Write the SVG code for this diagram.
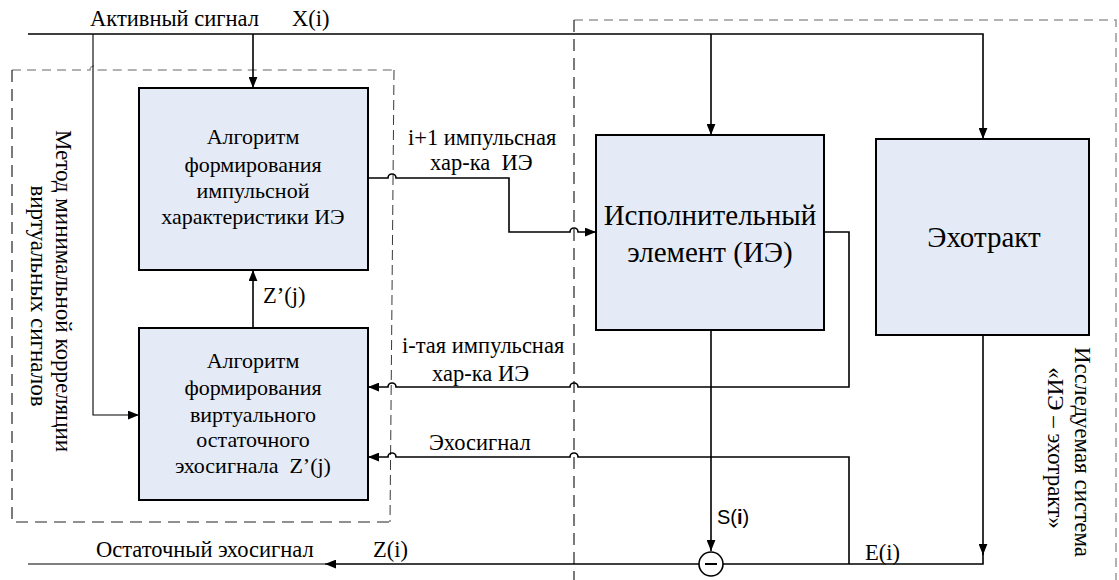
<svg xmlns="http://www.w3.org/2000/svg" width="1119" height="580" viewBox="0 0 1119 580">
<defs>
<style>
.t{font-family:"Liberation Serif","Times New Roman",serif}
.lbl{font-size:22.5px}
.rot{font-size:23px;text-anchor:middle}
.box{fill:#e5ebf6;stroke:#000;stroke-width:2}
.bt{font-size:22px;text-anchor:middle}
.big{font-size:29px;text-anchor:middle}
.ln{fill:none;stroke:#000;stroke-width:1.6}
.thin{fill:none;stroke:#000;stroke-width:1.1}
.dg{fill:none;stroke:#999;stroke-width:1.5;stroke-dasharray:9,6}
.dk{fill:none;stroke:#222;stroke-width:1.2;stroke-dasharray:12,7}
</style>
<marker id="ah" viewBox="0 0 10 8" refX="10" refY="4" markerWidth="11" markerHeight="9" markerUnits="userSpaceOnUse" orient="auto">
<path d="M0,0 L10,4 L0,8 z" fill="#000"/>
</marker>
</defs>
<rect width="1119" height="580" fill="#fff"/>

<g id="frames">
<path class="dg" d="M12,70 H90 A4,4 0 0 1 98,70 H394"/>
<path class="dk" d="M12,70 V522 H390"/>
<path class="dk" d="M394,70 L390,522" style="stroke-width:0.9;stroke-dasharray:10,5"/>
<path class="dg" d="M574,20 H1116 V580"/>
<path class="dk" d="M574,20 V580"/>
</g>

<g id="connectors">
<path class="ln" d="M28,34 H983 V139" marker-end="url(#ah)"/>
<path class="ln" d="M253,34 V88" marker-end="url(#ah)"/>
<path class="ln" d="M711,34 V135" marker-end="url(#ah)"/>
<path class="thin" d="M93,34 V415 H139" marker-end="url(#ah)"/>
<path class="ln" d="M253,328 V270" marker-end="url(#ah)"/>
<path class="ln" d="M368,178 H388 A4,4 0 0 1 396,178 H509 V232 H570 A4,4 0 0 1 578,232 H596" marker-end="url(#ah)"/>
<path class="ln" d="M824,232 H849 V387 H578 A4,4 0 0 0 570,387 H396 A4,4 0 0 0 388,387 H368" marker-end="url(#ah)"/>
<path class="ln" d="M849,564 V457 H578 A4,4 0 0 0 570,457 H396 A4,4 0 0 0 388,457 H368" marker-end="url(#ah)"/>
<path class="ln" d="M711,330 V551" marker-end="url(#ah)"/>
<path class="ln" d="M983,335 V555" marker-end="url(#ah)"/>
<path class="ln" d="M983,553 V564 H723"/>
<path class="ln" d="M699,564 H325" marker-end="url(#ah)"/>
<path class="thin" d="M325,564 H28"/>
</g>

<g id="n_alg1">
<rect class="box" x="139" y="88" width="229" height="182"/>
<text class="t bt" x="253" y="144">Алгоритм</text>
<text class="t bt" x="253" y="172">формирования</text>
<text class="t bt" x="253" y="198">импульсной</text>
<text class="t bt" x="253" y="224">характеристики ИЭ</text>
</g>

<g id="n_alg2">
<rect class="box" x="139" y="328" width="229" height="172"/>
<text class="t bt" x="253" y="368">Алгоритм</text>
<text class="t bt" x="253" y="395">формирования</text>
<text class="t bt" x="253" y="422">виртуального</text>
<text class="t bt" x="253" y="447">остаточного</text>
<text class="t bt" x="253" y="473" xml:space="preserve">эхосигнала  Z’(j)</text>
</g>

<g id="n_ie">
<rect class="box" x="596" y="135" width="228" height="195"/>
<text class="t big" x="710" y="225">Исполнительный</text>
<text class="t big" x="710" y="262">элемент (ИЭ)</text>
</g>

<g id="n_echo">
<rect class="box" x="876" y="139" width="213" height="196"/>
<text class="t big" x="984" y="247">Эхотракт</text>
</g>

<g id="n_sum">
<circle cx="711" cy="564" r="12" fill="#fff" stroke="#000" stroke-width="1.6"/>
<line x1="705" y1="564" x2="717" y2="564" stroke="#000" stroke-width="2"/>
</g>

<g id="labels">
<text class="t lbl" x="90" y="26">Активный сигнал</text>
<text class="t lbl" x="292" y="26">X(i)</text>
<text class="t lbl" x="408" y="145">i+1 импульсная</text>
<text class="t lbl" x="430" y="170" xml:space="preserve">хар-ка  ИЭ</text>
<text class="t lbl" x="263" y="303">Z’(j)</text>
<text class="t lbl" x="402" y="353">i-тая импульсная</text>
<text class="t lbl" x="432" y="381">хар-ка ИЭ</text>
<text class="t lbl" x="429" y="450">Эхосигнал</text>
<text class="t lbl" x="96" y="557">Остаточный эхосигнал</text>
<text class="t lbl" x="373" y="557">Z(i)</text>
<text class="t lbl" x="865" y="560">E(i)</text>
<text x="717" y="524" style="font-family:'Liberation Sans',Arial,sans-serif;font-size:20px">S(<tspan font-weight="bold">i</tspan>)</text>
<text class="t rot" transform="translate(56,291) rotate(90)">Метод минимальной корреляции</text>
<text class="t rot" transform="translate(31,296) rotate(90)">виртуальных сигналов</text>
<text class="t rot" transform="translate(1075,452) rotate(90)">Исследуемая система</text>
<text class="t rot" transform="translate(1048,448) rotate(90)">«ИЭ – эхотракт»</text>
</g>
</svg>
